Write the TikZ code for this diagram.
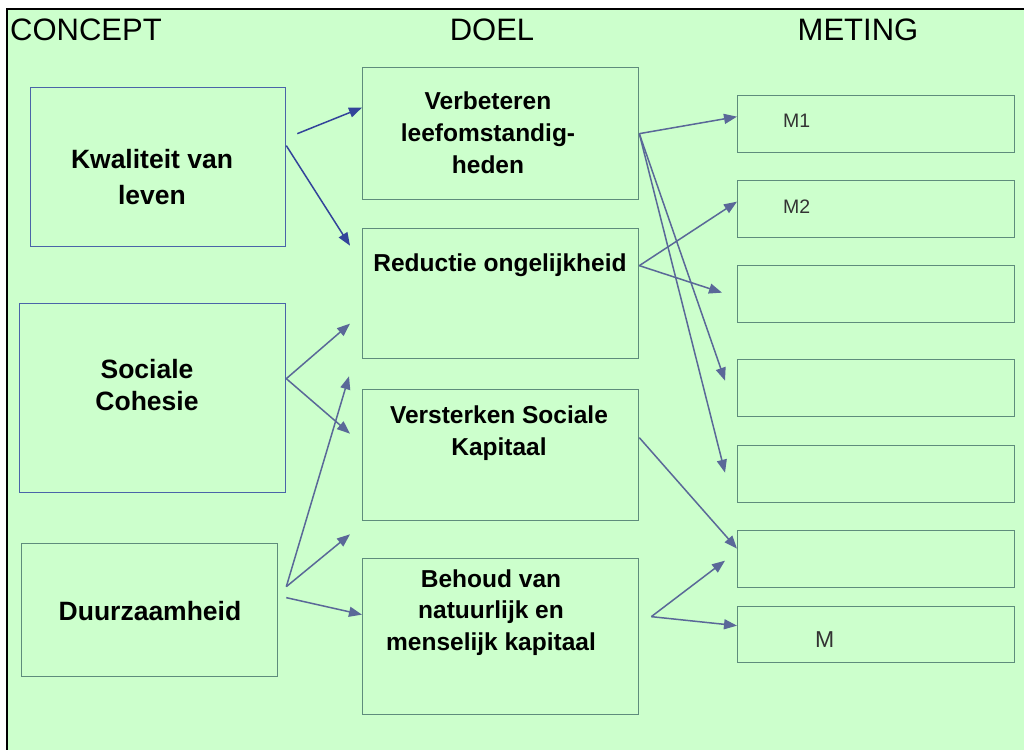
\documentclass[tikz,border=0pt]{standalone}
\usepackage{fontspec}
\setmainfont{Liberation Sans}
\usetikzlibrary{arrows.meta,calc}
\definecolor{bg}{HTML}{CCFFCC}
\definecolor{bluebd}{HTML}{4A64A8}
\definecolor{greenbd}{HTML}{5E8C7C}
\definecolor{arr}{HTML}{5A6898}
\definecolor{arrdark}{HTML}{33449A}
\definecolor{mtext}{HTML}{333333}
\newcommand\mylines[1]{\begin{tabular}[t]{@{}c@{}}#1\end{tabular}}
\begin{document}
\begin{tikzpicture}[x=1pt,y=-1pt,
  box/.style={draw=greenbd, line width=1.3pt, rectangle, inner sep=0pt, anchor=north west},
  bbox/.style={box, draw=bluebd},
  hdr/.style={inner sep=0pt, font=\fontsize{31}{36}\selectfont},
  ctext/.style={inner sep=0pt, anchor=base, font=\fontsize{26.5}{#1}\selectfont\bfseries},
  dtext/.style={inner sep=0pt, anchor=base, font=\fontsize{24.5}{#1}\selectfont\bfseries},
  mlab/.style={inner sep=0pt, anchor=base west, text=mtext, font=\fontsize{19.5}{22}\selectfont},
  con/.style={draw=arr, line width=1.5pt, -{Triangle[length=13pt,width=10pt]}},
  condark/.style={con, draw=arrdark, -{Triangle[length=13pt,width=10pt,fill=arrdark]}},
]
\useasboundingbox (0,0) rectangle (1024,749);
\fill[bg] (7,9) rectangle (1040,770);
\draw[black, line width=2pt] (7,770) -- (7,9) -- (1040,9);

% headers
\node[hdr, anchor=base west] (hc) at (10,41) {CONCEPT};
\node[hdr, anchor=base] (hd) at (492,41) {DOEL};
\node[hdr, anchor=base] (hm) at (858,41) {METING};

% concept boxes
\node[bbox, minimum width=255pt, minimum height=159pt] (kv) at (30,87) {};
\node[bbox, minimum width=266pt, minimum height=189pt] (sc) at (19,303) {};
\node[box, minimum width=256pt, minimum height=133pt] (du) at (21,543) {};
\node[ctext=36] (kvt) at (152,168) {\mylines{Kwaliteit van\\leven}};
\node[ctext=32] (sct) at (147,378) {\mylines{Sociale\\Cohesie}};
\node[ctext=32] (dut) at (150,620) {Duurzaamheid};

% doel boxes
\node[box, minimum width=276pt, minimum height=132pt] (verb) at (362,67) {};
\node[box, minimum width=276pt, minimum height=130pt] (red) at (362,228) {};
\node[box, minimum width=276pt, minimum height=131pt] (vers) at (362,389) {};
\node[box, minimum width=276pt, minimum height=156pt] (beh) at (362,558) {};
\node[dtext=31.5] (verbt) at (488,110) {\mylines{Verbeteren\\leefomstandig-\\heden}};
\node[dtext=31] (redt) at (500,271) {Reductie ongelijkheid};
\node[dtext=32] (verst) at (499,423) {\mylines{Versterken Sociale\\Kapitaal}};
\node[dtext=31.5] (beht) at (491,587) {\mylines{Behoud van\\natuurlijk en\\menselijk kapitaal}};

% meting boxes
\node[box, minimum width=277pt, minimum height=57pt] (m1) at (737,95) {};
\node[box, minimum width=277pt, minimum height=57pt] (m2) at (737,180) {};
\node[box, minimum width=277pt, minimum height=57pt] (m3) at (737,265) {};
\node[box, minimum width=277pt, minimum height=57pt] (m4) at (737,359) {};
\node[box, minimum width=277pt, minimum height=57pt] (m5) at (737,445) {};
\node[box, minimum width=277pt, minimum height=57pt] (m6) at (737,530) {};
\node[box, minimum width=277pt, minimum height=56pt] (m7) at (737,606) {};
\node[mlab] (m1t) at (783,128) {M1};
\node[mlab] (m2t) at (783,213) {M2};
\node[mlab, font=\fontsize{23}{26}\selectfont] (m7t) at (815,647) {M};

% connectors
\draw[condark] ($(kv.east)+(11,-33.5)$) -- ($(verb.west)+(0,-26)$);
\draw[condark] ($(kv.east)+(0,-21.5)$) -- ($(red.west)+(-12,-48)$);
\draw[con] (verb.east) -- ($(m1.west)+(0,-7.5)$);
\draw[con] (verb.east) -- ($(m4.west)+(-12,-7.5)$);
\draw[con] (verb.east) -- ($(m5.west)+(-12,-1.5)$);
\draw[con] ($(red.east)+(0,-28)$) -- ($(m2.west)+(0,-7.5)$);
\draw[con] ($(red.east)+(0,-28)$) -- ($(m3.west)+(-15,-1.5)$);
\draw[con] ($(sc.east)+(0,-19.5)$) -- ($(red.west)+(-12,30)$);
\draw[con] ($(sc.east)+(0,-19.5)$) -- ($(vers.west)+(-12,-21.5)$);
\draw[con] ($(du.east)+(8,-23.5)$) -- ($(red.south west)+(-13,17)$);
\draw[con] ($(du.east)+(8,-23.5)$) -- ($(vers.south west)+(-12,13)$);
\draw[con] ($(du.east)+(8,-12.5)$) -- ($(beh.west)+(0,-22)$);
\draw[con] ($(vers.east)+(0,-17.5)$) -- ($(m6.west)+(0,-10.5)$);
\draw[con] ($(beh.east)+(12,-20)$) -- ($(m6.west)+(-12,1.5)$);
\draw[con] ($(beh.east)+(12,-20)$) -- ($(m7.west)+(0,-9)$);
\end{tikzpicture}
\end{document}
